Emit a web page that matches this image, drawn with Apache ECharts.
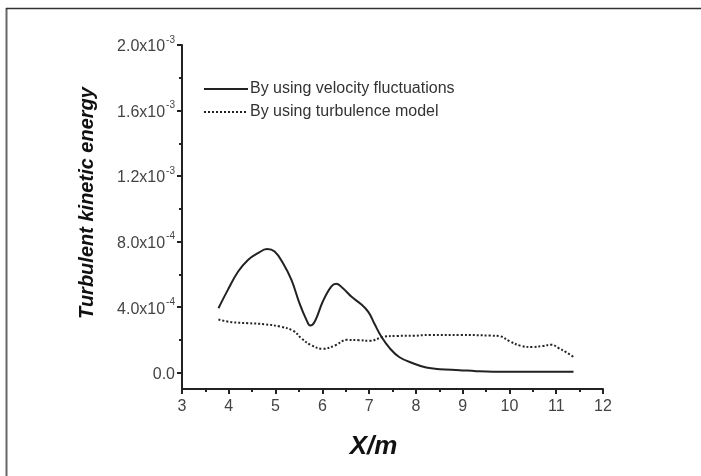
<!DOCTYPE html>
<html>
<head>
<meta charset="utf-8">
<script src="https://cdn.jsdelivr.net/npm/echarts@6/dist/echarts.min.js"></script>
<style>html,body{margin:0;padding:0;background:#fff;}#chart{width:701px;height:476px;}</style>
</head>
<body>
<div id="chart"></div>
<script>
// Series 1: by using velocity fluctuations (x in m, value in 1e-4 units)
const velX = [3.78, 3.98, 4.20, 4.41, 4.62, 4.82, 4.98, 5.16, 5.34, 5.51, 5.66, 5.74, 5.84, 6.01, 6.19, 6.30, 6.44, 6.62, 6.83, 6.99, 7.12, 7.26, 7.44, 7.65, 7.94, 8.22, 8.51, 8.93, 9.29, 9.65, 10.64, 11.37];
const velY = [3.93, 5.05, 6.17, 6.88, 7.29, 7.54, 7.39, 6.68, 5.66, 4.24, 3.22, 2.87, 3.12, 4.34, 5.25, 5.42, 5.15, 4.64, 4.17, 3.68, 2.95, 2.20, 1.49, 0.94, 0.57, 0.31, 0.21, 0.15, 0.09, 0.06, 0.06, 0.06];
// Series 2: by using turbulence model
const modX = [3.78, 4.06, 4.41, 4.77, 5.10, 5.38, 5.55, 5.75, 6.01, 6.28, 6.52, 6.78, 7.02, 7.30, 7.60, 7.95, 8.30, 8.95, 9.60, 9.80, 10.00, 10.25, 10.50, 10.70, 10.90, 11.05, 11.21, 11.37];
const modY = [3.24, 3.08, 3.02, 2.95, 2.81, 2.55, 2.10, 1.69, 1.45, 1.67, 2.00, 1.98, 1.94, 2.18, 2.24, 2.25, 2.30, 2.30, 2.26, 2.22, 1.92, 1.63, 1.56, 1.62, 1.70, 1.50, 1.25, 0.96];
const seriesNames = ['By using velocity fluctuations', 'By using turbulence model'];
const xTicks = [3, 4, 5, 6, 7, 8, 9, 10, 11, 12];
const yMajorTicks = [0, 4e-4, 8e-4, 1.2e-3, 1.6e-3, 2.0e-3];
const yMajorLabels = ['0.0', '4.0x10|-4', '8.0x10|-4', '1.2x10|-3', '1.6x10|-3', '2.0x10|-3'];
const yMinorTicks = [2e-4, 6e-4, 1.0e-3, 1.4e-3, 1.8e-3];

const toPairs = (xs, ys) => xs.map((x, i) => [x, ys[i] * 1e-4]);
const FONT = '"Liberation Sans", Arial, sans-serif';

const chart = echarts.init(document.getElementById('chart'), null, {renderer: 'canvas'});
const labelFormatter = function (v) {
  let idx = -1;
  for (let i = 0; i < yMajorTicks.length; i++) if (Math.abs(yMajorTicks[i] - v) < 1e-9) idx = i;
  if (idx < 0) return '';
  const parts = yMajorLabels[idx].split('|');
  if (parts.length === 1) return '{b|' + parts[0] + '}';
  return '{b|' + parts[0] + '}{s|' + parts[1] + '}';
};
chart.setOption({
  animation: false,
  backgroundColor: '#fff',
  grid: {left: 182, right: 98, top: 45, bottom: 87},
  legend: {
    orient: 'vertical', left: 203, top: 81, padding: 0,
    itemWidth: 44, itemHeight: 14, itemGap: 7,
    data: seriesNames,
    itemStyle: {opacity: 0},
    textStyle: {fontSize: 16, color: '#333', fontFamily: FONT, padding: [0, 0, 0, -3]}
  },
  xAxis: [{
    type: 'value', min: 3, max: 12, interval: 1,
    name: 'X/m', nameLocation: 'middle', nameGap: 45,
    nameTextStyle: {fontSize: 26, fontStyle: 'italic', fontWeight: 'bold', color: '#111', fontFamily: FONT, padding: [0, 38, 0, 0]},
    axisLine: {onZero: false, lineStyle: {color: '#222', width: 2}},
    axisTick: {inside: false, length: 5, lineStyle: {color: '#222', width: 2}},
    minorTick: {show: true, splitNumber: 2, length: 3, lineStyle: {color: '#222', width: 2}},
    axisLabel: {fontSize: 16, color: '#444', margin: 10, fontFamily: FONT},
    splitLine: {show: false}
  }],
  yAxis: [{
    type: 'value', min: -1e-4, max: 2e-3,
    axisLine: {show: true, onZero: false, lineStyle: {color: '#222', width: 2}},
    axisTick: {show: true, length: 5, customValues: yMajorTicks, lineStyle: {color: '#222', width: 2}},
    axisLabel: {
      show: true, customValues: yMajorTicks, margin: 7, formatter: labelFormatter,
      rich: {
        b: {fontSize: 16, color: '#444', fontFamily: FONT, lineHeight: 20, verticalAlign: 'bottom'},
        s: {fontSize: 10, color: '#444', fontFamily: FONT, lineHeight: 20, verticalAlign: 'top', padding: [0, 0, 0, 1]}
      }
    },
    splitLine: {show: false}
  }, {
    type: 'value', min: -1e-4, max: 2e-3, position: 'left',
    axisLine: {show: false},
    axisTick: {show: true, length: 3, customValues: yMinorTicks, lineStyle: {color: '#222', width: 2}},
    axisLabel: {show: false, customValues: yMinorTicks},
    splitLine: {show: false}
  }],
  graphic: [
    {type: 'line', shape: {x1: 6.5, y1: 8, x2: 6.5, y2: 476}, style: {stroke: '#666', lineWidth: 2}},
    {type: 'line', shape: {x1: 6, y1: 8.5, x2: 701, y2: 8.5}, style: {stroke: '#333', lineWidth: 1.5}},
    {type: 'text', x: 87, y: 203, rotation: Math.PI / 2,
     style: {text: 'Turbulent kinetic energy', textAlign: 'center', textVerticalAlign: 'middle',
             font: 'italic bold 20px "Liberation Sans", Arial, sans-serif', fill: '#111'}}
  ],
  series: [{
    name: seriesNames[0], type: 'line', smooth: 0.4, symbol: 'none',
    data: toPairs(velX, velY),
    lineStyle: {color: '#222', width: 2, type: 'solid'},
    itemStyle: {color: '#222'}
  }, {
    name: seriesNames[1], type: 'line', smooth: 0.4, symbol: 'none',
    data: toPairs(modX, modY),
    lineStyle: {color: '#222', width: 2, type: [2, 2]},
    itemStyle: {color: '#222'}
  }]
});
</script>
</body>
</html>
